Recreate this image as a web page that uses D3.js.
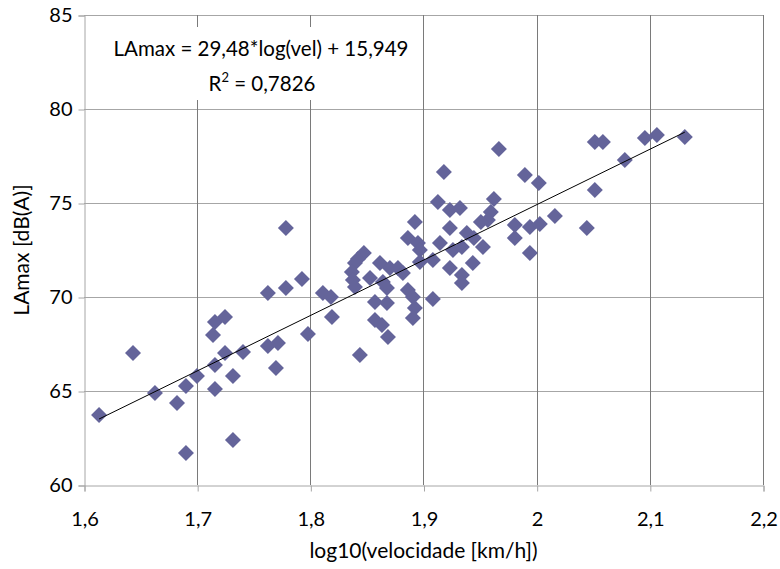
<!DOCTYPE html>
<html>
<head>
<meta charset="utf-8">
<script src="https://cdn.jsdelivr.net/npm/d3@7"></script>
<style>
  html, body { margin: 0; padding: 0; background: #fff; }
  svg { display: block; font-family: Lato, "Liberation Sans", sans-serif; }
</style>
</head>
<body>
<svg id="chart" width="780" height="569"></svg>
<script>
// log10(speed) readings
const logSpeed = [
  1.6133, 1.6433, 1.6627, 1.6822, 1.6901, 1.6998, 1.6901, 1.7157, 1.7246, 1.7140,
  1.7246, 1.7157, 1.7405, 1.7316, 1.7157, 1.7316, 1.7625, 1.7714, 1.7696, 1.7625,
  1.7784, 1.7784, 1.7926, 1.7979, 1.8111, 1.8182, 1.8191, 1.8438, 1.8473, 1.8420,
  1.8394, 1.8367, 1.8376, 1.8394, 1.8615, 1.8527, 1.8703, 1.8774, 1.8818, 1.8641,
  1.8677, 1.8571, 1.8677, 1.8571, 1.8633, 1.8686, 1.8862, 1.8906, 1.8924, 1.8906,
  1.9083, 1.8924, 1.8862, 1.8951, 1.8968, 1.8968, 1.9083, 1.9127, 1.9233, 1.9322,
  1.9233, 1.9145, 1.9260, 1.9339, 1.9233, 1.9339, 1.9339, 1.9436, 1.9383, 1.9445,
  1.9622, 1.9595, 1.9569, 1.9507, 1.9525, 1.9180, 1.9666, 1.9896, 2.0019, 1.9807,
  1.9940, 2.0028, 2.0161, 1.9807, 1.9940, 2.0443, 2.0514, 2.0514, 2.0585, 2.0779,
  2.0956, 2.1062, 2.1309,
];

// LAmax readings, dB(A)
const laMax = [
  63.72, 67.02, 64.89, 64.36, 65.27, 65.80, 61.70, 68.67, 68.94, 67.98,
  67.02, 66.38, 67.07, 65.80, 65.11, 62.39, 67.39, 67.55, 66.22, 70.21,
  73.67, 70.48, 70.96, 68.03, 70.21, 70.00, 68.94, 66.91, 72.34, 72.02,
  71.81, 71.33, 70.90, 70.53, 71.81, 71.01, 71.54, 71.54, 71.28, 70.80,
  70.48, 69.73, 69.68, 68.78, 68.51, 67.87, 70.37, 70.00, 69.41, 68.88,
  69.89, 73.99, 73.14, 72.87, 72.50, 71.86, 71.97, 75.05, 74.63, 74.73,
  73.67, 72.87, 72.50, 72.66, 71.54, 71.17, 70.74, 71.81, 73.40, 73.14,
  75.21, 74.52, 74.10, 73.99, 72.66, 76.65, 77.87, 76.49, 76.06, 73.83,
  73.72, 73.88, 74.31, 73.14, 72.34, 73.67, 75.69, 78.24, 78.24, 77.29,
  78.46, 78.62, 78.51,
];

const xTicks = [1.6, 1.7, 1.8, 1.9, 2.0, 2.1, 2.2];
const yTicks = [60, 65, 70, 75, 80, 85];
const fitSlope = 29.48;
const fitIntercept = 15.949;

const width = 780;
const height = 569;
const margin = { top: 15, right: 17, bottom: 84, left: 84 };

const svg = d3.select("#chart");
const fmtComma = (v) => String(+v.toFixed(1)).replace(".", ",");

const x = d3.scaleLinear().domain([1.6, 2.2]).range([margin.left, width - margin.right]);
const y = d3.scaleLinear().domain([60, 85]).range([height - margin.bottom, margin.top]);

// horizontal gridlines (lighter)
svg.append("g")
  .selectAll("line")
  .data(yTicks.slice(1))
  .join("line")
  .attr("x1", margin.left)
  .attr("x2", width - margin.right)
  .attr("y1", (d) => Math.round(y(d)) + 0.5)
  .attr("y2", (d) => Math.round(y(d)) + 0.5)
  .attr("stroke", "#a6a6a6");

// vertical gridlines (darker)
svg.append("g")
  .selectAll("line")
  .data(xTicks.slice(1))
  .join("line")
  .attr("x1", (d) => Math.round(x(d)) + 0.5)
  .attr("x2", (d) => Math.round(x(d)) + 0.5)
  .attr("y1", margin.top)
  .attr("y2", height - margin.bottom)
  .attr("stroke", "#7a7a7a");

// axes
const xAxis = svg.append("g")
  .attr("transform", `translate(0.5,${height - margin.bottom + 0.5})`)
  .call(d3.axisBottom(x).tickValues(xTicks).tickSize(6).tickPadding(20).tickFormat(fmtComma));

const yAxis = svg.append("g")
  .attr("transform", `translate(${margin.left + 0.5},0.5)`)
  .call(d3.axisLeft(y).tickValues(yTicks).tickSize(6).tickPadding(6).tickFormat(d3.format("d")));

[xAxis, yAxis].forEach((axis) => {
  axis.select(".domain").attr("stroke", "#a6a6a6");
  axis.selectAll(".tick line").attr("stroke", "#a6a6a6");
  axis.selectAll(".tick text")
    .attr("fill", "#000")
    .attr("font-size", 20)
    .attr("font-family", "Lato, 'Liberation Sans', sans-serif");
});

// equation label box
const labelBox = svg.append("g");
labelBox.append("rect")
  .attr("x", 108)
  .attr("y", 27)
  .attr("width", 308)
  .attr("height", 73)
  .attr("fill", "#fff");

labelBox.append("text")
  .attr("x", 261)
  .attr("y", 56)
  .attr("text-anchor", "middle")
  .attr("font-size", 20.5)
  .text("LAmax = 29,48*log(vel) + 15,949");

const r2 = labelBox.append("text")
  .attr("x", 262)
  .attr("y", 91)
  .attr("text-anchor", "middle")
  .attr("font-size", 20.5);
r2.append("tspan").text("R");
r2.append("tspan").attr("dy", -9).attr("font-size", 13).text("2");
r2.append("tspan").attr("dy", 9).text(" = 0,7826");

// scatter points
const points = logSpeed.map((v, i) => ({ x: v, y: laMax[i] }));

svg.append("g")
  .selectAll("path")
  .data(points)
  .join("path")
  .attr("d", d3.symbol(d3.symbolSquare, 128))
  .attr("transform", (d) => `translate(${x(d.x)},${y(d.y)}) rotate(45)`)
  .attr("fill", "#64649a");

// trend line over the data range
const xExtent = d3.extent(logSpeed);
svg.append("line")
  .attr("x1", x(xExtent[0]))
  .attr("y1", y(fitSlope * xExtent[0] + fitIntercept))
  .attr("x2", x(xExtent[1]))
  .attr("y2", y(fitSlope * xExtent[1] + fitIntercept))
  .attr("stroke", "#000")
  .attr("stroke-width", 1);

// axis titles
svg.append("text")
  .attr("x", (margin.left + width - margin.right) / 2)
  .attr("y", 558)
  .attr("text-anchor", "middle")
  .attr("font-size", 21)
  .text("log10(velocidade [km/h])");

svg.append("text")
  .attr("transform", `translate(29,${(margin.top + height - margin.bottom) / 2}) rotate(-90)`)
  .attr("text-anchor", "middle")
  .attr("font-size", 21)
  .text("LAmax [dB(A)]");
</script>
</body>
</html>
